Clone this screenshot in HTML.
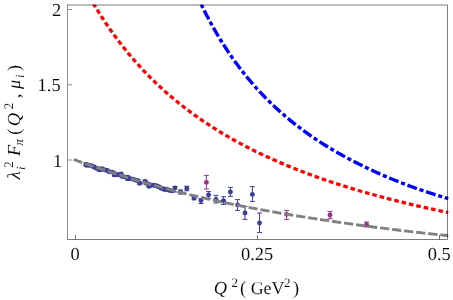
<!DOCTYPE html>
<html><head><meta charset="utf-8"><style>
html,body{margin:0;padding:0;background:#fff;}
svg{display:block}
text{font-family:"Liberation Serif",serif;fill:#000;text-rendering:geometricPrecision;stroke:#fff;stroke-width:0.08px}
</style></head><body>
<svg width="453" height="300" viewBox="0 0 453 300">
<rect width="453" height="300" fill="#fff"/>
<defs><clipPath id="c"><rect x="67.0" y="4.5" width="381.5" height="235.5"/></clipPath></defs>
<g clip-path="url(#c)">
<path d="M86.0 162.9V165.5M83.5 162.9H88.5M83.5 165.5H88.5" stroke="#3d3d99" stroke-width="1" fill="none"/>
<circle cx="86.0" cy="164.2" r="2.45" fill="#3d3d99"/>
<path d="M88.6 164.0V166.6M86.1 164.0H91.1M86.1 166.6H91.1" stroke="#3d3d99" stroke-width="1" fill="none"/>
<circle cx="88.6" cy="165.3" r="2.45" fill="#3d3d99"/>
<path d="M91.2 164.3V166.9M88.7 164.3H93.7M88.7 166.9H93.7" stroke="#3d3d99" stroke-width="1" fill="none"/>
<circle cx="91.2" cy="165.6" r="2.45" fill="#3d3d99"/>
<path d="M93.8 165.5V168.1M91.3 165.5H96.3M91.3 168.1H96.3" stroke="#3d3d99" stroke-width="1" fill="none"/>
<circle cx="93.8" cy="166.8" r="2.45" fill="#3d3d99"/>
<path d="M96.4 166.9V169.5M93.9 166.9H98.9M93.9 169.5H98.9" stroke="#3d3d99" stroke-width="1" fill="none"/>
<circle cx="96.4" cy="168.2" r="2.45" fill="#3d3d99"/>
<path d="M99.0 167.7V170.3M96.5 167.7H101.5M96.5 170.3H101.5" stroke="#3d3d99" stroke-width="1" fill="none"/>
<circle cx="99.0" cy="169.0" r="2.45" fill="#3d3d99"/>
<path d="M101.6 167.5V170.1M99.1 167.5H104.1M99.1 170.1H104.1" stroke="#3d3d99" stroke-width="1" fill="none"/>
<circle cx="101.6" cy="168.8" r="2.45" fill="#3d3d99"/>
<path d="M104.2 168.5V171.1M101.7 168.5H106.7M101.7 171.1H106.7" stroke="#3d3d99" stroke-width="1" fill="none"/>
<circle cx="104.2" cy="169.8" r="2.45" fill="#3d3d99"/>
<path d="M106.8 169.1V171.7M104.3 169.1H109.3M104.3 171.7H109.3" stroke="#3d3d99" stroke-width="1" fill="none"/>
<circle cx="106.8" cy="170.4" r="2.45" fill="#3d3d99"/>
<path d="M109.4 170.5V173.1M106.9 170.5H111.9M106.9 173.1H111.9" stroke="#3d3d99" stroke-width="1" fill="none"/>
<circle cx="109.4" cy="171.8" r="2.45" fill="#3d3d99"/>
<path d="M112.0 170.8V173.4M109.5 170.8H114.5M109.5 173.4H114.5" stroke="#3d3d99" stroke-width="1" fill="none"/>
<circle cx="112.0" cy="172.1" r="2.45" fill="#3d3d99"/>
<path d="M114.6 172.3V174.9M112.1 172.3H117.1M112.1 174.9H117.1" stroke="#3d3d99" stroke-width="1" fill="none"/>
<circle cx="114.6" cy="173.6" r="2.45" fill="#3d3d99"/>
<path d="M117.2 173.4V176.0M114.7 173.4H119.7M114.7 176.0H119.7" stroke="#3d3d99" stroke-width="1" fill="none"/>
<circle cx="117.2" cy="174.7" r="2.45" fill="#3d3d99"/>
<path d="M119.8 173.7V176.3M117.3 173.7H122.3M117.3 176.3H122.3" stroke="#3d3d99" stroke-width="1" fill="none"/>
<circle cx="119.8" cy="175.0" r="2.45" fill="#3d3d99"/>
<path d="M122.4 175.1V177.7M119.9 175.1H124.9M119.9 177.7H124.9" stroke="#3d3d99" stroke-width="1" fill="none"/>
<circle cx="122.4" cy="176.4" r="2.45" fill="#3d3d99"/>
<path d="M125.0 175.8V178.4M122.5 175.8H127.5M122.5 178.4H127.5" stroke="#3d3d99" stroke-width="1" fill="none"/>
<circle cx="125.0" cy="177.1" r="2.45" fill="#3d3d99"/>
<path d="M127.6 175.9V178.5M125.1 175.9H130.1M125.1 178.5H130.1" stroke="#3d3d99" stroke-width="1" fill="none"/>
<circle cx="127.6" cy="177.2" r="2.45" fill="#3d3d99"/>
<path d="M130.2 177.4V180.0M127.7 177.4H132.7M127.7 180.0H132.7" stroke="#3d3d99" stroke-width="1" fill="none"/>
<circle cx="130.2" cy="178.7" r="2.45" fill="#3d3d99"/>
<path d="M132.8 177.8V180.4M130.3 177.8H135.3M130.3 180.4H135.3" stroke="#3d3d99" stroke-width="1" fill="none"/>
<circle cx="132.8" cy="179.1" r="2.45" fill="#3d3d99"/>
<path d="M135.4 178.8V181.4M132.9 178.8H137.9M132.9 181.4H137.9" stroke="#3d3d99" stroke-width="1" fill="none"/>
<circle cx="135.4" cy="180.1" r="2.45" fill="#3d3d99"/>
<path d="M138.0 179.4V182.0M135.5 179.4H140.5M135.5 182.0H140.5" stroke="#3d3d99" stroke-width="1" fill="none"/>
<circle cx="138.0" cy="180.7" r="2.45" fill="#3d3d99"/>
<path d="M145.8 181.5V184.1M143.3 181.5H148.3M143.3 184.1H148.3" stroke="#3d3d99" stroke-width="1" fill="none"/>
<circle cx="145.8" cy="182.8" r="2.45" fill="#3d3d99"/>
<path d="M148.4 182.8V185.4M145.9 182.8H150.9M145.9 185.4H150.9" stroke="#3d3d99" stroke-width="1" fill="none"/>
<circle cx="148.4" cy="184.1" r="2.45" fill="#3d3d99"/>
<path d="M151.0 183.9V186.5M148.5 183.9H153.5M148.5 186.5H153.5" stroke="#3d3d99" stroke-width="1" fill="none"/>
<circle cx="151.0" cy="185.2" r="2.45" fill="#3d3d99"/>
<path d="M153.6 183.9V186.5M151.1 183.9H156.1M151.1 186.5H156.1" stroke="#3d3d99" stroke-width="1" fill="none"/>
<circle cx="153.6" cy="185.2" r="2.45" fill="#3d3d99"/>
<path d="M156.2 184.5V187.1M153.7 184.5H158.7M153.7 187.1H158.7" stroke="#3d3d99" stroke-width="1" fill="none"/>
<circle cx="156.2" cy="185.8" r="2.45" fill="#3d3d99"/>
<path d="M158.8 185.5V188.1M156.3 185.5H161.3M156.3 188.1H161.3" stroke="#3d3d99" stroke-width="1" fill="none"/>
<circle cx="158.8" cy="186.8" r="2.45" fill="#3d3d99"/>
<path d="M161.4 186.9V189.5M158.9 186.9H163.9M158.9 189.5H163.9" stroke="#3d3d99" stroke-width="1" fill="none"/>
<circle cx="161.4" cy="188.2" r="2.45" fill="#3d3d99"/>
<path d="M164.0 187.7V190.3M161.5 187.7H166.5M161.5 190.3H166.5" stroke="#3d3d99" stroke-width="1" fill="none"/>
<circle cx="164.0" cy="189.0" r="2.45" fill="#3d3d99"/>
<path d="M166.6 188.0V190.6M164.1 188.0H169.1M164.1 190.6H169.1" stroke="#3d3d99" stroke-width="1" fill="none"/>
<circle cx="166.6" cy="189.3" r="2.45" fill="#3d3d99"/>
<path d="M169.2 189.0V191.6M166.7 189.0H171.7M166.7 191.6H171.7" stroke="#3d3d99" stroke-width="1" fill="none"/>
<circle cx="169.2" cy="190.3" r="2.45" fill="#3d3d99"/>
<path d="M171.8 189.6V192.2M169.3 189.6H174.3M169.3 192.2H174.3" stroke="#3d3d99" stroke-width="1" fill="none"/>
<circle cx="171.8" cy="190.9" r="2.45" fill="#3d3d99"/>
<path d="M86.3 164.0V166.6M83.8 164.0H88.8M83.8 166.6H88.8" stroke="#3d3d99" stroke-width="1" fill="none"/>
<circle cx="86.3" cy="165.3" r="2.45" fill="#3d3d99"/>
<path d="M99.7 168.6V171.2M97.2 168.6H102.2M97.2 171.2H102.2" stroke="#3d3d99" stroke-width="1" fill="none"/>
<circle cx="99.7" cy="169.9" r="2.45" fill="#3d3d99"/>
<path d="M114.3 173.6V176.2M111.8 173.6H116.8M111.8 176.2H116.8" stroke="#3d3d99" stroke-width="1" fill="none"/>
<circle cx="114.3" cy="174.9" r="2.45" fill="#3d3d99"/>
<path d="M121.0 172.6V175.2M118.5 172.6H123.5M118.5 175.2H123.5" stroke="#3d3d99" stroke-width="1" fill="none"/>
<circle cx="121.0" cy="173.9" r="2.45" fill="#3d3d99"/>
<path d="M127.7 177.4V180.0M125.2 177.4H130.2M125.2 180.0H130.2" stroke="#3d3d99" stroke-width="1" fill="none"/>
<circle cx="127.7" cy="178.7" r="2.45" fill="#3d3d99"/>
<path d="M139.7 182.0V184.6M137.2 182.0H142.2M137.2 184.6H142.2" stroke="#3d3d99" stroke-width="1" fill="none"/>
<circle cx="139.7" cy="183.3" r="2.45" fill="#3d3d99"/>
<path d="M145.0 180.2V182.8M142.5 180.2H147.5M142.5 182.8H147.5" stroke="#3d3d99" stroke-width="1" fill="none"/>
<circle cx="145.0" cy="181.5" r="2.45" fill="#3d3d99"/>
<path d="M149.0 185.0V187.6M146.5 185.0H151.5M146.5 187.6H151.5" stroke="#3d3d99" stroke-width="1" fill="none"/>
<circle cx="149.0" cy="186.3" r="2.45" fill="#3d3d99"/>
<path d="M165.0 188.3V190.9M162.5 188.3H167.5M162.5 190.9H167.5" stroke="#3d3d99" stroke-width="1" fill="none"/>
<circle cx="165.0" cy="189.6" r="2.45" fill="#3d3d99"/>
<path d="M175.0 186.5V192.0M172.5 186.5H177.5M172.5 192.0H177.5" stroke="#3d3d99" stroke-width="1" fill="none"/>
<circle cx="175.0" cy="188.0" r="2.45" fill="#3d3d99"/>
<path d="M180.5 190.0V194.0M178.0 190.0H183.0M178.0 194.0H183.0" stroke="#3d3d99" stroke-width="1" fill="none"/>
<circle cx="180.5" cy="192.0" r="2.45" fill="#3d3d99"/>
<path d="M186.8 186.2V190.8M184.3 186.2H189.3M184.3 190.8H189.3" stroke="#3d3d99" stroke-width="1" fill="none"/>
<circle cx="186.8" cy="188.5" r="2.45" fill="#3d3d99"/>
<path d="M194.0 196.5V199.8M191.5 196.5H196.5M191.5 199.8H196.5" stroke="#3d3d99" stroke-width="1" fill="none"/>
<circle cx="194.0" cy="198.0" r="2.45" fill="#3d3d99"/>
<path d="M201.0 198.5V203.5M198.5 198.5H203.5M198.5 203.5H203.5" stroke="#3d3d99" stroke-width="1" fill="none"/>
<circle cx="201.0" cy="200.6" r="2.45" fill="#3d3d99"/>
<path d="M208.6 191.6V198.6M206.1 191.6H211.1M206.1 198.6H211.1" stroke="#3d3d99" stroke-width="1" fill="none"/>
<circle cx="208.6" cy="195.0" r="2.45" fill="#3d3d99"/>
<path d="M216.0 195.4V203.0M213.5 195.4H218.5M213.5 203.0H218.5" stroke="#3d3d99" stroke-width="1" fill="none"/>
<circle cx="216.0" cy="199.5" r="2.45" fill="#3d3d99"/>
<path d="M230.4 187.4V196.4M227.9 187.4H232.9M227.9 196.4H232.9" stroke="#3d3d99" stroke-width="1" fill="none"/>
<circle cx="230.4" cy="192.0" r="2.45" fill="#3d3d99"/>
<path d="M237.6 199.6V210.4M235.1 199.6H240.1M235.1 210.4H240.1" stroke="#3d3d99" stroke-width="1" fill="none"/>
<circle cx="237.6" cy="205.0" r="2.45" fill="#3d3d99"/>
<path d="M245.0 206.4V219.4M242.5 206.4H247.5M242.5 219.4H247.5" stroke="#3d3d99" stroke-width="1" fill="none"/>
<circle cx="245.0" cy="213.0" r="2.45" fill="#3d3d99"/>
<path d="M252.4 186.6V201.4M249.9 186.6H254.9M249.9 201.4H254.9" stroke="#3d3d99" stroke-width="1" fill="none"/>
<circle cx="252.4" cy="194.4" r="2.45" fill="#3d3d99"/>
<path d="M259.5 213.0V232.6M257.0 213.0H262.0M257.0 232.6H262.0" stroke="#3d3d99" stroke-width="1" fill="none"/>
<circle cx="259.5" cy="223.0" r="2.45" fill="#3d3d99"/>
<path d="M206.4 175.4V189.0M203.9 175.4H208.9M203.9 189.0H208.9" stroke="#97318b" stroke-width="1" fill="none"/>
<circle cx="206.4" cy="182.4" r="2.45" fill="#97318b"/>
<path d="M286.6 210.4V219.4M284.1 210.4H289.1M284.1 219.4H289.1" stroke="#97318b" stroke-width="1" fill="none"/>
<circle cx="286.6" cy="214.4" r="2.45" fill="#97318b"/>
<path d="M330.0 211.4V218.6M327.5 211.4H332.5M327.5 218.6H332.5" stroke="#97318b" stroke-width="1" fill="none"/>
<circle cx="330.0" cy="215.0" r="2.45" fill="#97318b"/>
<path d="M366.6 222.0V227.0M364.1 222.0H369.1M364.1 227.0H369.1" stroke="#97318b" stroke-width="1" fill="none"/>
<circle cx="366.6" cy="224.4" r="2.45" fill="#97318b"/>
<path d="M73.80 159.30 L75.68 160.07 L77.57 160.83 L79.45 161.54 L81.33 162.22 L83.21 162.89 L85.10 163.56 L86.98 164.23 L88.86 164.88 L90.75 165.53 L92.63 166.16 L94.51 166.79 L96.39 167.42 L98.28 168.05 L100.16 168.68 L102.04 169.31 L103.93 169.93 L105.81 170.55 L107.69 171.16 L109.58 171.78 L111.46 172.39 L113.34 173.01 L115.22 173.63 L117.11 174.26 L118.99 174.88 L120.87 175.49 L122.76 176.09 L124.64 176.70 L126.52 177.29 L128.40 177.88 L130.29 178.47 L132.17 179.05 L134.05 179.62 L135.94 180.19 L137.82 180.76 L139.70 181.32 L141.58 181.87 L143.47 182.42 L145.35 182.97 L147.23 183.51 L149.12 184.04 L151.00 184.57 L152.88 185.10 L154.77 185.63 L156.65 186.15 L158.53 186.66 L160.41 187.17 L162.30 187.68 L164.18 188.18 L166.06 188.68 L167.95 189.18 L169.83 189.67 L171.71 190.16 L173.59 190.65 L175.48 191.13 L177.36 191.60 L179.24 192.08 L181.13 192.55 L183.01 193.02 L184.89 193.48 L186.77 193.94 L188.66 194.40 L190.54 194.85 L192.42 195.31 L194.31 195.76 L196.19 196.20 L198.07 196.65 L199.96 197.09 L201.84 197.53 L203.72 197.97 L205.60 198.40 L207.49 198.83 L209.37 199.26 L211.25 199.68 L213.14 200.09 L215.02 200.51 L216.90 200.92 L218.78 201.33 L220.67 201.73 L222.55 202.13 L224.43 202.53 L226.32 202.92 L228.20 203.32 L230.08 203.71 L231.96 204.09 L233.85 204.48 L235.73 204.86 L237.61 205.24 L239.50 205.61 L241.38 205.98 L243.26 206.35 L245.15 206.72 L247.03 207.08 L248.91 207.45 L250.79 207.81 L252.68 208.16 L254.56 208.52 L256.44 208.87 L258.33 209.22 L260.21 209.56 L262.09 209.91 L263.97 210.25 L265.86 210.59 L267.74 210.92 L269.62 211.26 L271.51 211.59 L273.39 211.92 L275.27 212.25 L277.15 212.57 L279.04 212.89 L280.92 213.21 L282.80 213.53 L284.69 213.85 L286.57 214.16 L288.45 214.47 L290.34 214.78 L292.22 215.09 L294.10 215.40 L295.98 215.70 L297.87 216.01 L299.75 216.31 L301.63 216.61 L303.52 216.91 L305.40 217.21 L307.28 217.50 L309.16 217.80 L311.05 218.09 L312.93 218.38 L314.81 218.67 L316.70 218.96 L318.58 219.25 L320.46 219.54 L322.34 219.82 L324.23 220.11 L326.11 220.39 L327.99 220.67 L329.88 220.95 L331.76 221.23 L333.64 221.51 L335.53 221.78 L337.41 222.06 L339.29 222.33 L341.17 222.60 L343.06 222.87 L344.94 223.14 L346.82 223.40 L348.71 223.67 L350.59 223.93 L352.47 224.19 L354.35 224.45 L356.24 224.71 L358.12 224.96 L360.00 225.22 L361.89 225.47 L363.77 225.72 L365.65 225.97 L367.53 226.22 L369.42 226.47 L371.30 226.71 L373.18 226.96 L375.07 227.20 L376.95 227.45 L378.83 227.69 L380.72 227.93 L382.60 228.17 L384.48 228.41 L386.36 228.64 L388.25 228.88 L390.13 229.11 L392.01 229.35 L393.90 229.58 L395.78 229.81 L397.66 230.04 L399.54 230.27 L401.43 230.49 L403.31 230.72 L405.19 230.94 L407.08 231.16 L408.96 231.38 L410.84 231.60 L412.72 231.82 L414.61 232.04 L416.49 232.25 L418.37 232.47 L420.26 232.68 L422.14 232.89 L424.02 233.10 L425.91 233.31 L427.79 233.51 L429.67 233.72 L431.55 233.92 L433.44 234.12 L435.32 234.32 L437.20 234.52 L439.09 234.71 L440.97 234.91 L442.85 235.10 L444.73 235.29 L446.62 235.49 L448.50 235.68" stroke="#808080" stroke-width="2.9" fill="none" stroke-dasharray="9.2 2.91" stroke-dashoffset="0.25"/>
<path d="M223.5 196.7V204.4M221.0 196.7H226.0M221.0 204.4H226.0" stroke="#3d3d99" stroke-width="1" fill="none"/>
<circle cx="223.5" cy="200.6" r="2.45" fill="#3d3d99"/>
<path d="M93.32 3.32 L95.10 6.31 L96.89 9.25 L98.67 12.13 L100.46 14.96 L102.24 17.74 L104.03 20.47 L105.81 23.16 L107.60 25.79 L109.38 28.38 L111.17 30.93 L112.95 33.43 L114.74 35.89 L116.52 38.31 L118.31 40.69 L120.09 43.03 L121.88 45.33 L123.66 47.59 L125.45 49.82 L127.23 52.01 L129.02 54.17 L130.80 56.29 L132.59 58.38 L134.37 60.44 L136.16 62.46 L137.94 64.46 L139.72 66.42 L141.51 68.36 L143.29 70.27 L145.08 72.14 L146.86 74.00 L148.65 75.82 L150.43 77.62 L152.22 79.39 L154.00 81.14 L155.79 82.86 L157.57 84.55 L159.36 86.23 L161.14 87.88 L162.93 89.51 L164.71 91.11 L166.50 92.70 L168.28 94.26 L170.07 95.80 L171.85 97.32 L173.64 98.82 L175.42 100.30 L177.21 101.77 L178.99 103.21 L180.78 104.63 L182.56 106.04 L184.35 107.43 L186.13 108.80 L187.92 110.15 L189.70 111.49 L191.48 112.81 L193.27 114.11 L195.05 115.40 L196.84 116.67 L198.62 117.93 L200.41 119.17 L202.19 120.40 L203.98 121.61 L205.76 122.81 L207.55 123.99 L209.33 125.16 L211.12 126.32 L212.90 127.46 L214.69 128.59 L216.47 129.71 L218.26 130.81 L220.04 131.91 L221.83 132.99 L223.61 134.05 L225.40 135.11 L227.18 136.15 L228.97 137.19 L230.75 138.21 L232.54 139.22 L234.32 140.22 L236.11 141.21 L237.89 142.18 L239.68 143.15 L241.46 144.11 L243.24 145.06 L245.03 145.99 L246.81 146.92 L248.60 147.84 L250.38 148.75 L252.17 149.65 L253.95 150.54 L255.74 151.42 L257.52 152.29 L259.31 153.16 L261.09 154.01 L262.88 154.86 L264.66 155.70 L266.45 156.53 L268.23 157.35 L270.02 158.16 L271.80 158.97 L273.59 159.76 L275.37 160.56 L277.16 161.34 L278.94 162.11 L280.73 162.88 L282.51 163.64 L284.30 164.40 L286.08 165.14 L287.87 165.88 L289.65 166.62 L291.44 167.34 L293.22 168.06 L295.00 168.77 L296.79 169.48 L298.57 170.18 L300.36 170.87 L302.14 171.56 L303.93 172.24 L305.71 172.92 L307.50 173.59 L309.28 174.25 L311.07 174.91 L312.85 175.56 L314.64 176.21 L316.42 176.85 L318.21 177.48 L319.99 178.11 L321.78 178.74 L323.56 179.36 L325.35 179.97 L327.13 180.58 L328.92 181.18 L330.70 181.78 L332.49 182.38 L334.27 182.96 L336.06 183.55 L337.84 184.13 L339.63 184.70 L341.41 185.27 L343.20 185.84 L344.98 186.40 L346.76 186.95 L348.55 187.50 L350.33 188.05 L352.12 188.59 L353.90 189.13 L355.69 189.66 L357.47 190.19 L359.26 190.72 L361.04 191.24 L362.83 191.76 L364.61 192.27 L366.40 192.78 L368.18 193.29 L369.97 193.79 L371.75 194.29 L373.54 194.78 L375.32 195.27 L377.11 195.76 L378.89 196.24 L380.68 196.72 L382.46 197.20 L384.25 197.67 L386.03 198.14 L387.82 198.60 L389.60 199.07 L391.39 199.52 L393.17 199.98 L394.96 200.43 L396.74 200.88 L398.52 201.33 L400.31 201.77 L402.09 202.21 L403.88 202.64 L405.66 203.08 L407.45 203.51 L409.23 203.93 L411.02 204.36 L412.80 204.78 L414.59 205.20 L416.37 205.61 L418.16 206.02 L419.94 206.43 L421.73 206.84 L423.51 207.24 L425.30 207.64 L427.08 208.04 L428.87 208.44 L430.65 208.83 L432.44 209.22 L434.22 209.61 L436.01 209.99 L437.79 210.37 L439.58 210.75 L441.36 211.13 L443.15 211.50 L444.93 211.88 L446.72 212.25 L448.50 212.61" stroke="#ff0000" stroke-width="3.3" fill="none" stroke-dasharray="4.6 2.96" stroke-dashoffset="0.15"/>
<path d="M200.52 2.92 L201.77 5.51 L203.01 8.05 L204.26 10.56 L205.51 13.02 L206.75 15.44 L208.00 17.83 L209.25 20.17 L210.49 22.49 L211.74 24.76 L212.98 27.00 L214.23 29.21 L215.48 31.38 L216.72 33.52 L217.97 35.63 L219.21 37.70 L220.46 39.75 L221.71 41.77 L222.95 43.75 L224.20 45.71 L225.44 47.64 L226.69 49.55 L227.94 51.42 L229.18 53.27 L230.43 55.10 L231.68 56.90 L232.92 58.67 L234.17 60.42 L235.41 62.15 L236.66 63.85 L237.91 65.53 L239.15 67.19 L240.40 68.83 L241.64 70.44 L242.89 72.04 L244.14 73.61 L245.38 75.17 L246.63 76.70 L247.87 78.21 L249.12 79.71 L250.37 81.19 L251.61 82.64 L252.86 84.08 L254.11 85.51 L255.35 86.91 L256.60 88.30 L257.84 89.67 L259.09 91.03 L260.34 92.37 L261.58 93.69 L262.83 95.00 L264.07 96.29 L265.32 97.57 L266.57 98.83 L267.81 100.08 L269.06 101.31 L270.30 102.53 L271.55 103.74 L272.80 104.93 L274.04 106.11 L275.29 107.28 L276.54 108.43 L277.78 109.57 L279.03 110.70 L280.27 111.81 L281.52 112.92 L282.77 114.01 L284.01 115.09 L285.26 116.16 L286.50 117.22 L287.75 118.26 L289.00 119.30 L290.24 120.32 L291.49 121.34 L292.74 122.34 L293.98 123.33 L295.23 124.32 L296.47 125.29 L297.72 126.25 L298.97 127.21 L300.21 128.15 L301.46 129.08 L302.70 130.01 L303.95 130.93 L305.20 131.83 L306.44 132.73 L307.69 133.62 L308.93 134.50 L310.18 135.38 L311.43 136.24 L312.67 137.10 L313.92 137.94 L315.17 138.78 L316.41 139.62 L317.66 140.44 L318.90 141.26 L320.15 142.07 L321.40 142.87 L322.64 143.66 L323.89 144.45 L325.13 145.23 L326.38 146.00 L327.63 146.77 L328.87 147.53 L330.12 148.28 L331.36 149.02 L332.61 149.76 L333.86 150.50 L335.10 151.22 L336.35 151.94 L337.60 152.65 L338.84 153.36 L340.09 154.06 L341.33 154.76 L342.58 155.45 L343.83 156.13 L345.07 156.81 L346.32 157.48 L347.56 158.15 L348.81 158.81 L350.06 159.46 L351.30 160.12 L352.55 160.78 L353.79 161.43 L355.04 162.07 L356.29 162.71 L357.53 163.34 L358.78 163.97 L360.03 164.60 L361.27 165.21 L362.52 165.83 L363.76 166.44 L365.01 167.04 L366.26 167.64 L367.50 168.24 L368.75 168.83 L369.99 169.41 L371.24 169.99 L372.49 170.57 L373.73 171.14 L374.98 171.71 L376.23 172.28 L377.47 172.84 L378.72 173.39 L379.96 173.94 L381.21 174.49 L382.46 175.04 L383.70 175.57 L384.95 176.11 L386.19 176.64 L387.44 177.17 L388.69 177.69 L389.93 178.21 L391.18 178.73 L392.42 179.24 L393.67 179.75 L394.92 180.26 L396.16 180.76 L397.41 181.26 L398.66 181.75 L399.90 182.24 L401.15 182.73 L402.39 183.22 L403.64 183.70 L404.89 184.18 L406.13 184.65 L407.38 185.12 L408.62 185.59 L409.87 186.05 L411.12 186.51 L412.36 186.96 L413.61 187.40 L414.85 187.84 L416.10 188.28 L417.35 188.72 L418.59 189.15 L419.84 189.58 L421.09 190.01 L422.33 190.43 L423.58 190.86 L424.82 191.27 L426.07 191.69 L427.32 192.10 L428.56 192.51 L429.81 192.92 L431.05 193.33 L432.30 193.73 L433.55 194.13 L434.79 194.53 L436.04 194.92 L437.28 195.31 L438.53 195.70 L439.78 196.09 L441.02 196.48 L442.27 196.86 L443.52 197.24 L444.76 197.62 L446.01 197.99 L447.25 198.36 L448.50 198.73" stroke="#0000ff" stroke-width="3.4" fill="none" stroke-dasharray="10 2.8 4.1 2.76" stroke-dashoffset="11.33"/>
</g>
<g stroke-width="1" fill="none" stroke="#000">
<path d="M67.5 5.0H447.5V239.5H67.5" stroke-opacity="0.51"/>
<path d="M67.5 240.0V4.5" stroke-opacity="0.44"/>
<path d="M68.0 9.5h4M68.0 84.75h4M68.0 160h4" stroke-opacity="0.44"/>
<path d="M75.5 239.5v-4.5M257.5 239.5v-4.5M439.5 239.5v-4.5" stroke-opacity="0.53"/>
</g>
<g style="filter:grayscale(1)">
<g font-size="18.4px" text-anchor="end">
<text x="61.3" y="15.9">2</text>
<text x="60.6" y="91.0">1.5</text>
<text x="62.1" y="166.6">1</text>
</g>
<g font-size="18.4px" text-anchor="middle">
<text x="75.1" y="260.4">0</text>
<text x="257.1" y="260.4">0.25</text>
<text x="439.2" y="260.4">0.5</text>
</g>
<g font-size="18.4px">
<text x="213.75" y="293.6" font-style="italic">Q</text>
<text x="231.45" y="286.5" font-size="13px">2</text>
<text x="239.95" y="293.6">(</text>
<text x="250.68" y="293.6" font-size="17.9px">GeV</text>
<text x="284.0" y="286.5" font-size="13px">2</text>
<text x="292.9" y="293.6">)</text>
</g>
<g font-size="18.4px" transform="translate(20 180) rotate(-90)">
<text x="0.8" y="0" font-style="italic">λ</text>
<text x="12.15" y="-7.3" font-size="13px">2</text>
<text x="10.05" y="4.7" font-size="12.5px" font-style="italic">i</text>
<text x="24" y="0" font-style="italic">F</text>
<text x="34.55" y="3.3" font-size="13px" font-style="italic">π</text>
<text x="45.35" y="0">(</text>
<text x="53.75" y="0" font-style="italic">Q</text>
<text x="70.8" y="-7.3" font-size="13px">2</text>
<text x="81.75" y="0">,</text>
<text x="90.9" y="0" font-style="italic">μ</text>
<text x="102.05" y="4.0" font-size="12.5px" font-style="italic">i</text>
<text x="109.05" y="0">)</text>
</g>
</g>
</svg>
</body></html>
